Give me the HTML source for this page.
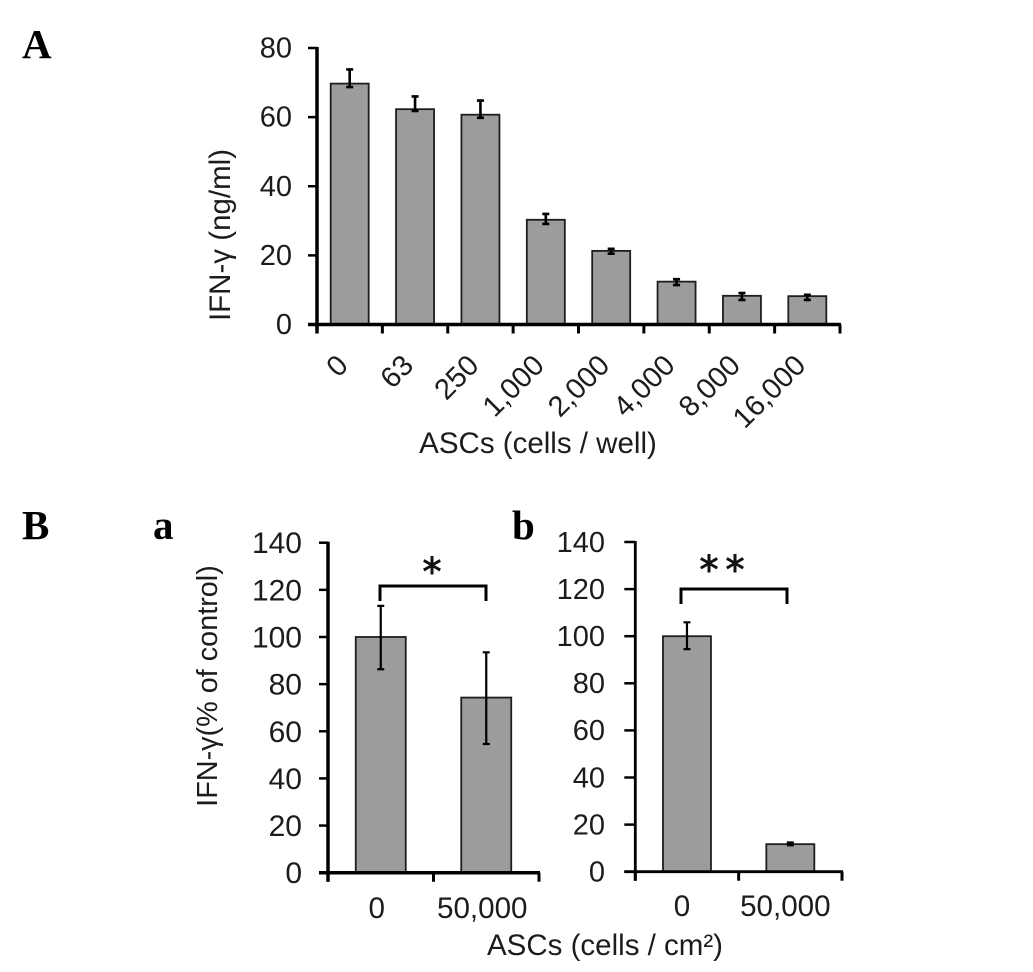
<!DOCTYPE html>
<html lang="en">
<head>
<meta charset="utf-8">
<title>IFN-γ vs ASCs</title>
<style>
html,body{margin:0;padding:0;background:#fff;}
svg{display:block;}
text{font-family:"Liberation Sans",Arial,sans-serif;fill:#1c1c1c;}
.title{font-size:29.5px;}
.panel{font-family:"Liberation Serif",serif;font-weight:bold;font-size:41px;fill:#000;}
.star{font-family:"DejaVu Sans",sans-serif;font-size:38px;fill:#111;stroke:#111;stroke-width:0.9px;}
</style>
</head>
<body>
<svg id="figure" xmlns="http://www.w3.org/2000/svg" width="1033" height="972" viewBox="0 0 1033 972">
  <rect x="0" y="0" width="1033" height="972" fill="#fff"/>

  <text class="panel" x="22" y="58">A</text>
  <text class="panel" x="22" y="539">B</text>
  <text class="panel" x="153" y="539">a</text>
  <text class="panel" x="512" y="539">b</text>

  <text class="title" x="230" y="235" text-anchor="middle" transform="rotate(-90 230 235)">IFN-γ (ng/ml)</text>
  <text class="title" x="538" y="453" text-anchor="middle">ASCs (cells / well)</text>
  <text class="title" style="font-size:28.8px" x="217" y="686" text-anchor="middle" transform="rotate(-90 217 686)">IFN-γ(% of control)</text>
  <text class="title" x="605" y="955" text-anchor="middle">ASCs (cells / cm²)</text>

  <path d="M380 601 V586 H486 V601" fill="none" stroke="#000" stroke-width="3"/>
  <text class="star" x="432" y="585" text-anchor="middle">*</text>
  <path d="M681 604 V589 H787 V604" fill="none" stroke="#000" stroke-width="3"/>
  <text class="star" x="709" y="583" text-anchor="middle">*</text>
  <text class="star" x="735" y="583" text-anchor="middle">*</text>
</svg>
<script>
// Chart A data
const aCategories = ["0", "63", "250", "1,000", "2,000", "4,000", "8,000", "16,000"];
const aValues = [69.7, 62.3, 60.7, 30.3, 21.3, 12.4, 8.3, 8.2];
const aErrHigh = [73.8, 66.0, 64.8, 32.0, 21.9, 13.1, 9.1, 8.6];
const aErrLow = [68.7, 61.8, 59.8, 29.1, 20.5, 11.4, 7.1, 7.1];
const aTicks = [0, 20, 40, 60, 80];

// Chart B-a data
const baCategories = ["0", "50,000"];
const baValues = [100, 74.3];
const baErrHigh = [113.2, 93.5];
const baErrLow = [86.3, 54.6];
const baTicks = [0, 20, 40, 60, 80, 100, 120, 140];

// Chart B-b data
const bbCategories = ["0", "50,000"];
const bbValues = [100, 11.7];
const bbErrHigh = [105.9, 12.4];
const bbErrLow = [94.5, 11.2];
const bbTicks = [0, 20, 40, 60, 80, 100, 120, 140];

const svg = document.getElementById('figure');
const NS = 'http://www.w3.org/2000/svg';

function make(tag, attrs, parent) {
  const el = document.createElementNS(NS, tag);
  for (const k in attrs) el.setAttribute(k, attrs[k]);
  parent.appendChild(el);
  return el;
}

function drawChart(cfg) {
  const g = make('g', {}, svg);
  
  

  const yMax = cfg.ticks[cfg.ticks.length - 1];
  const yScale = function (v) { return cfg.y0 - (v / yMax) * (cfg.y0 - cfg.yTop); };
  const band = (cfg.xEnd - cfg.x0) / cfg.categories.length;
  const xCenter = function (i) { return cfg.x0 + band * (i + 0.5); };

  // bars
  cfg.values.forEach(function (v, i) {
    const bar = make('rect', {
      x: xCenter(i) - cfg.barW / 2, y: yScale(v),
      width: cfg.barW, height: cfg.y0 - yScale(v),
      fill: '#9c9c9c', stroke: '#1e1e1e', 'stroke-width': 1.8
    }, g);
    
    
  });

  // error bars
  cfg.values.forEach(function (v, i) {
    const x = xCenter(i) + cfg.errOffset;
    const hi = yScale(cfg.errHigh[i]);
    const lo = yScale(cfg.errLow[i]);
    const err = make('path', {
      d: 'M' + (x - 3.5) + ' ' + hi + 'H' + (x + 3.5) + 'M' + x + ' ' + hi + 'V' + lo + 'M' + (x - 3.5) + ' ' + lo + 'H' + (x + 3.5),
      fill: 'none', stroke: '#000', 'stroke-width': cfg.errStroke
    }, g);
    
    
  });

  // axes
  const yAxis = make('line', { x1: cfg.x0, x2: cfg.x0, y1: cfg.yTop - 1, y2: cfg.y0 + cfg.tickDown, stroke: '#000', 'stroke-width': cfg.axisStroke }, g);
  
  
  const xAxis = make('line', { x1: cfg.x0 - cfg.tickLeft, x2: cfg.xEnd + 1, y1: cfg.y0, y2: cfg.y0, stroke: '#000', 'stroke-width': cfg.axisStroke }, g);
  
  

  // y ticks and labels
  cfg.ticks.forEach(function (t) {
    const y = yScale(t);
    const tick = make('line', { x1: cfg.x0 - cfg.tickLeft, x2: cfg.x0, y1: y, y2: y, stroke: '#000', 'stroke-width': 2.5 }, g);
    
    
    const label = make('text', { x: cfg.labelRight, y: y + cfg.labelDy, 'text-anchor': 'end', 'font-size': cfg.yFont }, g);
    
    
    label.textContent = t;
  });

  // x ticks
  for (let i = 0; i <= cfg.categories.length; i++) {
    const x = cfg.x0 + band * i;
    const tick = make('line', { x1: x, x2: x, y1: cfg.y0, y2: cfg.y0 + cfg.tickDown, stroke: '#000', 'stroke-width': 3 }, g);
    
    
  }

  // x labels
  cfg.categories.forEach(function (c, i) {
    const x = xCenter(i);
    const attrs = cfg.rotate
      ? { x: x + cfg.xLabelDx, y: cfg.xLabelY, 'text-anchor': 'end', 'font-size': cfg.xFont, transform: 'rotate(-45 ' + (x + cfg.xLabelDx) + ' ' + cfg.xLabelY + ')' }
      : { x: x + cfg.xLabelDx, y: cfg.xLabelY, 'text-anchor': 'middle', 'font-size': cfg.xFont };
    const label = make('text', attrs, g);
    
    
    label.textContent = c;
  });
}

drawChart({
  id: 'chart-a', categories: aCategories, values: aValues, errHigh: aErrHigh, errLow: aErrLow, ticks: aTicks,
  x0: 317, xEnd: 840, y0: 324.5, yTop: 48, barW: 38, errOffset: 0, errStroke: 2.6, axisStroke: 3.5,
  tickLeft: 9, tickDown: 9, labelRight: 292, labelDy: 9.5, yFont: 29, xFont: 29, rotate: true, xLabelDx: 0, xLabelY: 367
});
drawChart({
  id: 'chart-ba', categories: baCategories, values: baValues, errHigh: baErrHigh, errLow: baErrLow, ticks: baTicks,
  x0: 328, xEnd: 539, y0: 872.7, yTop: 542.7, barW: 50, errOffset: 0, errStroke: 2.2, axisStroke: 3.5,
  tickLeft: 9, tickDown: 9, labelRight: 302, labelDy: 10.5, yFont: 30, xFont: 29.6, rotate: false, xLabelDx: -4, xLabelY: 918
});
drawChart({
  id: 'chart-bb', categories: bbCategories, values: bbValues, errHigh: bbErrHigh, errLow: bbErrLow, ticks: bbTicks,
  x0: 635.3, xEnd: 842, y0: 871.7, yTop: 542, barW: 48, errOffset: 0, errStroke: 2.2, axisStroke: 2.8,
  tickLeft: 11, tickDown: 9, labelRight: 605, labelDy: 9.8, yFont: 29, xFont: 29.6, rotate: false, xLabelDx: -5, xLabelY: 916
});
</script>
</body>
</html>
